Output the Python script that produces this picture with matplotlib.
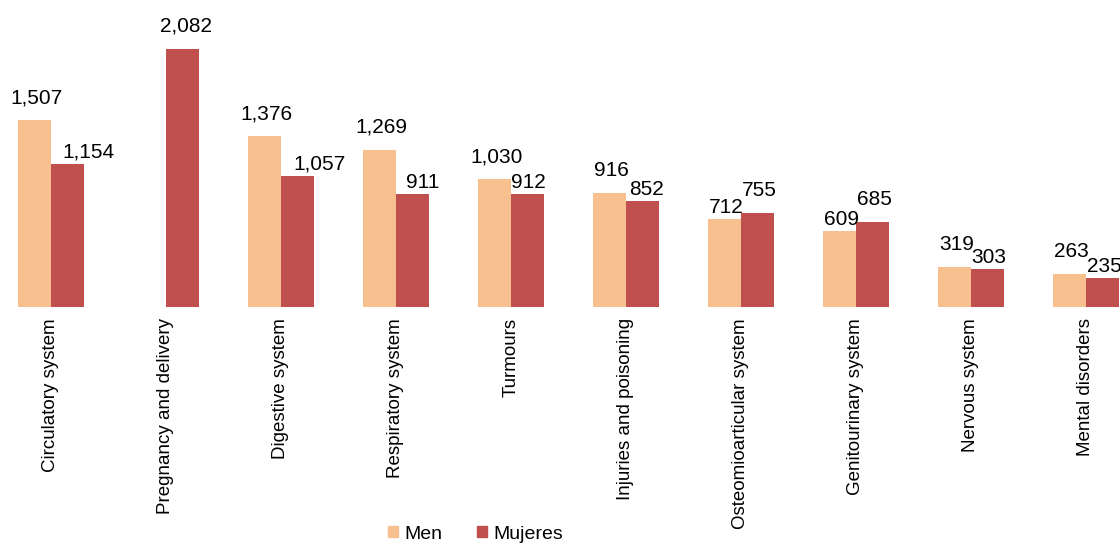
import numpy as np
import matplotlib.pyplot as plt
from matplotlib.patches import Patch

plt.rcParams['font.family'] = ['Liberation Sans', 'DejaVu Sans']

categories = ['Circulatory system', 'Pregnancy and delivery', 'Digestive system',
              'Respiratory system', 'Turmours', 'Injuries and poisoning',
              'Osteomioarticular system', 'Genitourinary system', 'Nervous system',
              'Mental disorders']
men = [1507, 0, 1376, 1269, 1030, 916, 712, 609, 319, 263]
mujeres = [1154, 2082, 1057, 911, 912, 852, 755, 685, 303, 235]

# sideways nudge (pixels) of the women labels, as in the original
muj_dx = [21, 4, 22, 10, 1, 4, 2, 2, 1, 2]

c_men = '#F9C08F'
c_muj = '#C0504D'

fig = plt.figure(figsize=(11.2, 5.44), dpi=100)
ax = fig.add_axes([0, 1 - 307 / 544, 1, 307 / 544])

x = np.arange(len(categories))
w = 0.287
ax.bar(x - w / 2, men, w, color=c_men)
ax.bar(x + w / 2, mujeres, w, color=c_muj)

# higher bar of a pair gets its label well above, lower one gets pushed down
for i in range(len(x)):
    m, f = men[i], mujeres[i]
    if m:
        gap = 13 if m >= f else 2
        ax.annotate(f'{m:,}', (x[i] - w / 2, m), xytext=(2, gap),
                    textcoords='offset pixels', ha='center', va='bottom', fontsize=15)
    gap = 13 if f > m else 2
    ax.annotate(f'{f:,}', (x[i] + w / 2, f), xytext=(muj_dx[i], gap),
                textcoords='offset pixels', ha='center', va='bottom', fontsize=15)

ax.set_xlim(-0.443, 9.296)
ax.set_ylim(0, 2476)
ax.set_xticks(x)
ax.set_xticklabels(categories, rotation=90, fontsize=13.5)
ax.tick_params(axis='x', length=0, pad=8)
ax.set_yticks([])
for s in ax.spines.values():
    s.set_visible(False)

handles = [Patch(color=c_men, label='Men'), Patch(color=c_muj, label='Mujeres')]
fig.legend(handles=handles, loc='center', bbox_to_anchor=(0.4246, 0.018),
           ncol=2, frameon=False, fontsize=14, handlelength=0.52, handleheight=0.52,
           handletextpad=0.3, columnspacing=1.8, borderpad=0, borderaxespad=0)

fig.savefig('out.png', dpi=100)
